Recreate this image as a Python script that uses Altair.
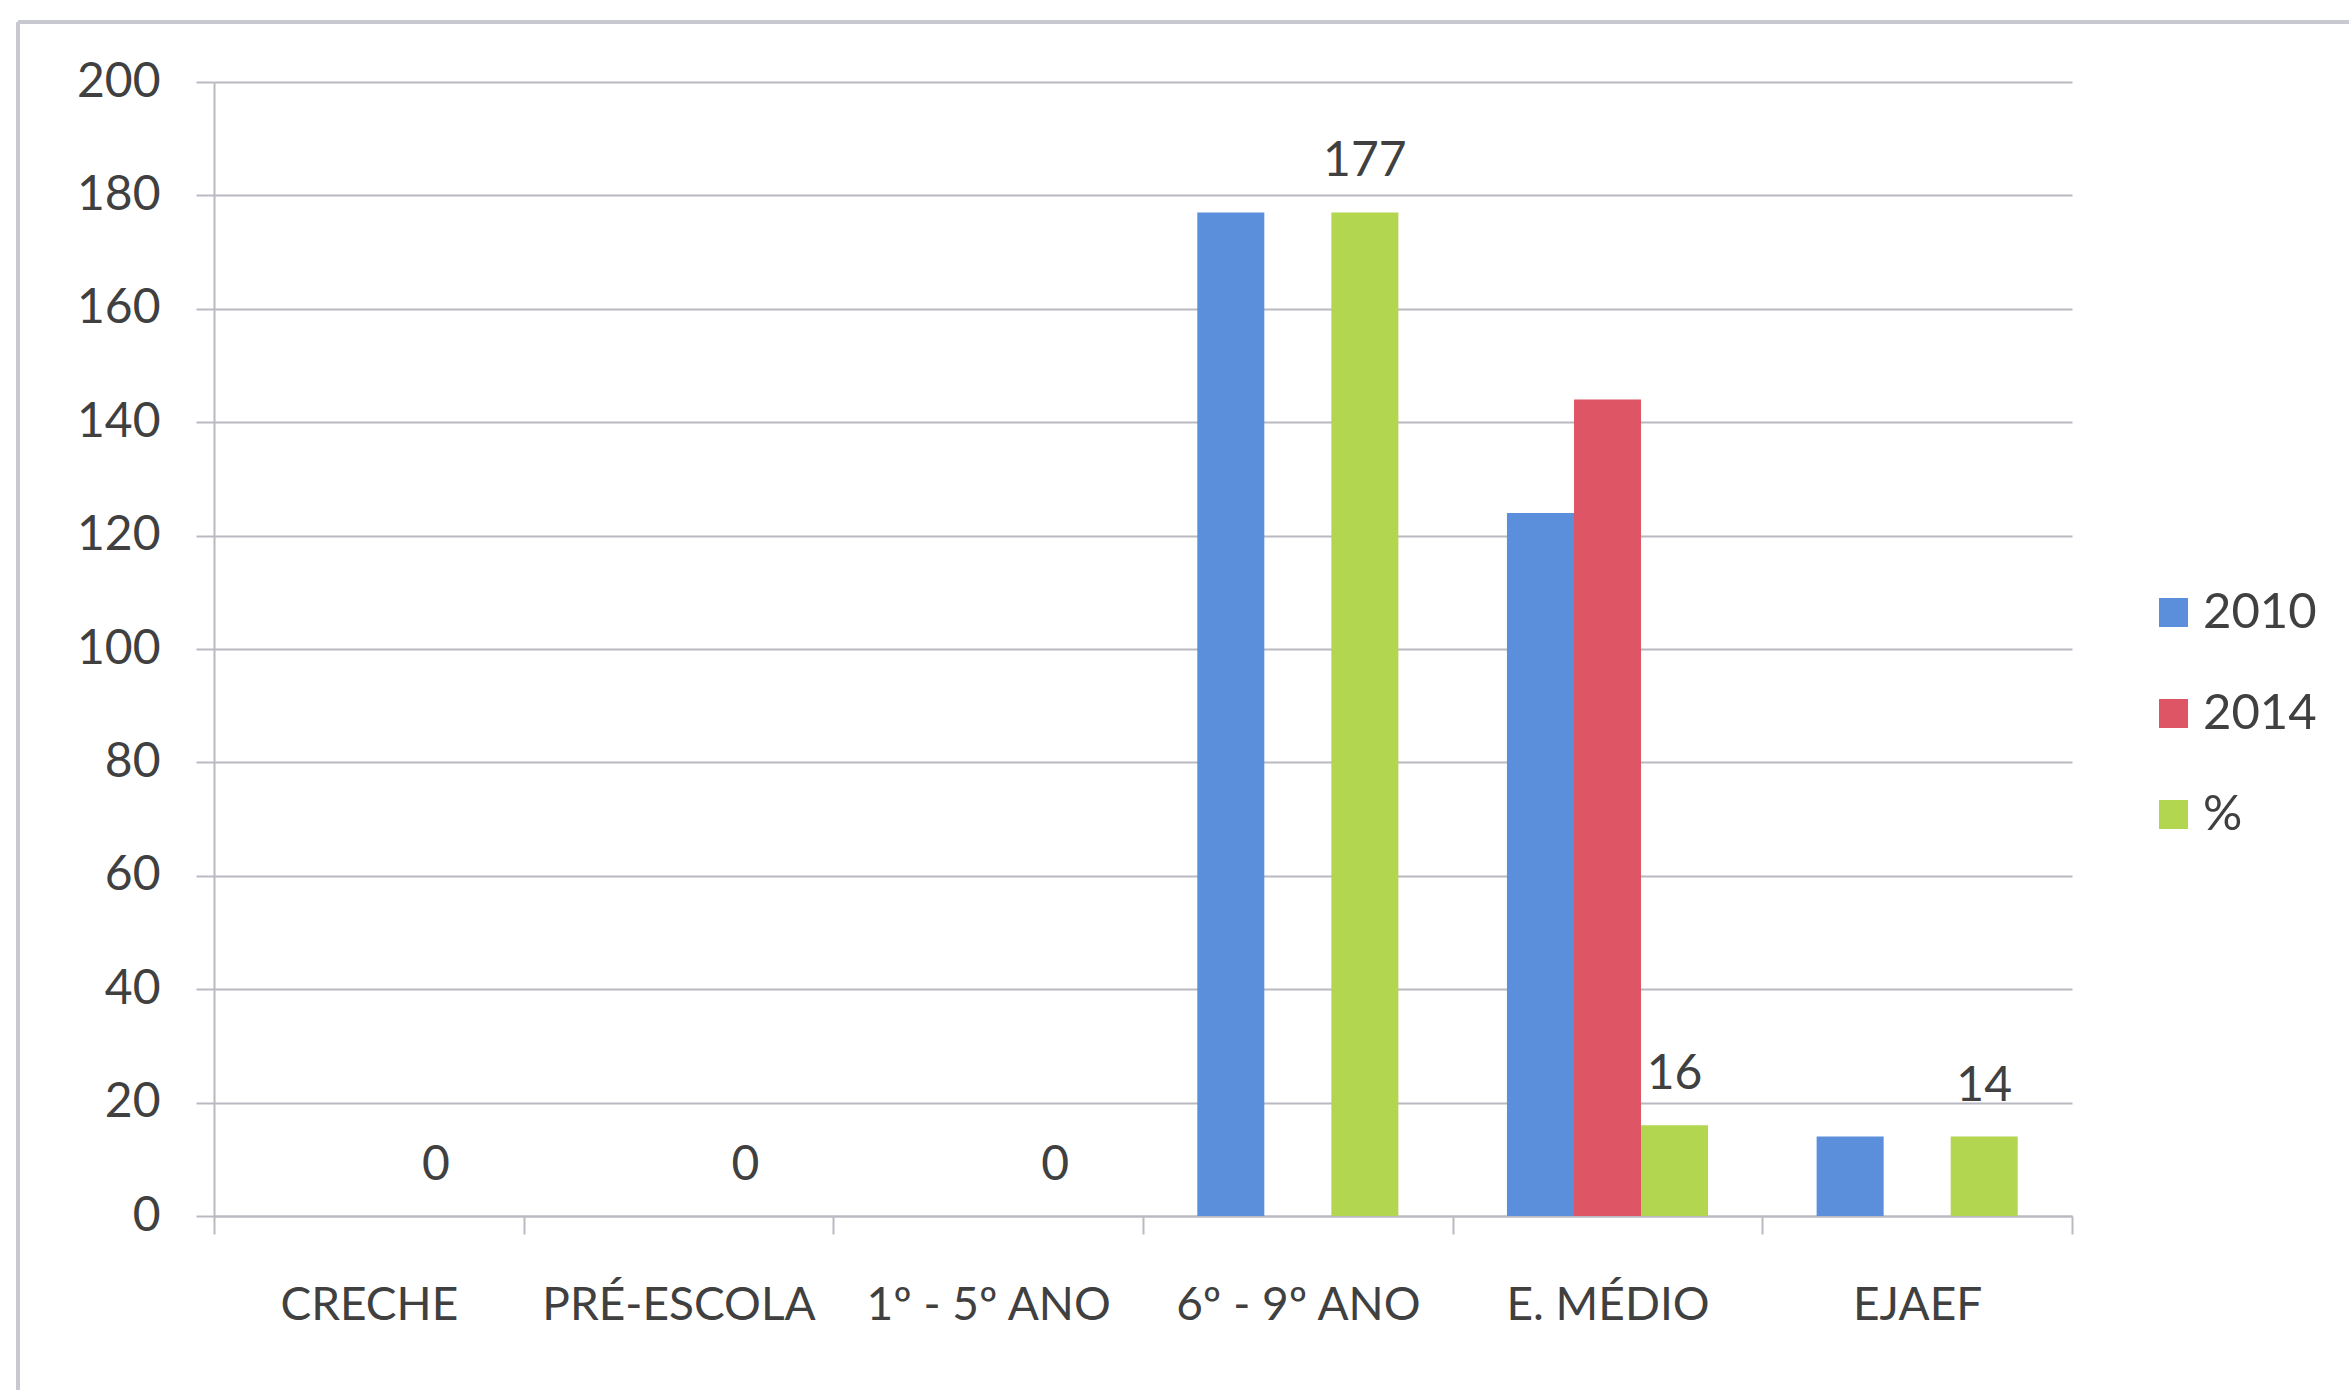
import altair as alt
import pandas as pd

categories = ["CRECHE", "PRÉ-ESCOLA", "1º - 5º ANO", "6º - 9º ANO", "E. MÉDIO", "EJAEF"]
series = ["2010", "2014", "%"]
values_2010 = [0, 0, 0, 177, 124, 14]
values_2014 = [0, 0, 0, 0, 144, 0]
values_pct = [0, 0, 0, 177, 16, 14]
colors = ["#5B8EDB", "#DE5565", "#B3D651"]

rows = []
for s, vals in zip(series, [values_2010, values_2014, values_pct]):
    for c, v in zip(categories, vals):
        rows.append({"cat": c, "series": s, "value": v})
df = pd.DataFrame(rows)

FONT = "Lato"
TXT = "#404040"
GRID = "#B9B9C2"

x_enc = alt.X("cat:N", sort=categories,
              scale=alt.Scale(paddingInner=0, paddingOuter=0),
              axis=alt.Axis(title=None, labelAngle=0, tickBand="extent", tickSize=18,
                            tickColor=GRID, tickWidth=2, domainColor=GRID, domainWidth=2,
                            labelFontSize=46, labelColor=TXT, labelFont=FONT, labelPadding=49,
                            labelLimit=0, labelBound=False, labelOverlap=False, grid=False))
xo_enc = alt.XOffset("series:N", sort=series, scale=alt.Scale(paddingInner=0, paddingOuter=0.81))
y_enc = alt.Y("value:Q", scale=alt.Scale(domain=[0, 200], nice=False),
              axis=alt.Axis(title=None, values=list(range(0, 201, 20)), grid=True,
                            gridColor=GRID, gridWidth=2, tickColor=GRID, tickWidth=2, tickSize=18,
                            domainColor=GRID, domainWidth=2, labelFontSize=48, labelColor=TXT,
                            labelFont=FONT, labelPadding=36))

bars = alt.Chart(df).mark_bar().encode(
    x=x_enc, xOffset=xo_enc, y=y_enc,
    color=alt.Color("series:N", sort=series,
                    scale=alt.Scale(domain=series, range=colors),
                    legend=alt.Legend(title=None, orient="none", legendX=1935, legendY=506,
                                      symbolType="square", symbolSize=841, symbolStrokeWidth=0,
                                      labelFontSize=49, labelFont=FONT, labelColor=TXT,
                                      labelOffset=5, rowPadding=51))
)

labels = alt.Chart(df).transform_filter(alt.datum.series == "%").mark_text(
    baseline="alphabetic", dy=-36, fontSize=48, font=FONT, color=TXT
).encode(x=x_enc, xOffset=xo_enc, y=y_enc, text=alt.Text("value:Q"))

frame_top = alt.Chart(df).mark_rule(color="#C8C8D0", strokeWidth=3).encode(
    x=alt.value(-196), x2=alt.value(2135), y=alt.value(-60))
frame_left = alt.Chart(df).mark_rule(color="#C8C8D0", strokeWidth=3).encode(
    x=alt.value(-196), y=alt.value(-60), y2=alt.value(1308))

chart = alt.layer(bars, labels, frame_top, frame_left).properties(
    width=1858, height=1134,
    autosize=alt.AutoSizeParams(type="none"),
    padding={"left": 214, "top": 82, "right": 277, "bottom": 174},
    background="white"
).configure_view(stroke=None)

chart.save("out.html", embed_options={"renderer": "svg", "actions": False})
